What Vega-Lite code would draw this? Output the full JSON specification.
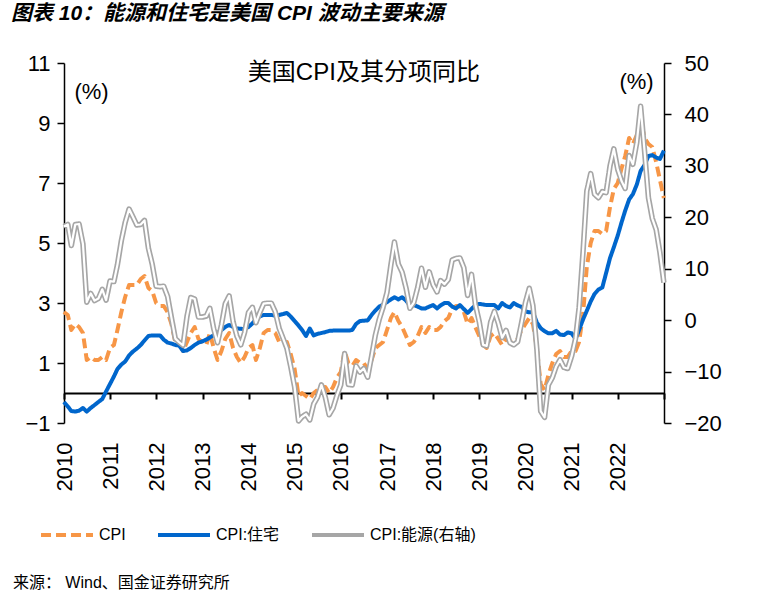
{
  "$schema": "https://vega.github.io/schema/vega-lite/v6.json",
  "background": "white",
  "padding": {"left": 10, "top": 3, "right": 5, "bottom": 5},
  "config": {"view": {"stroke": null}, "font": "Liberation Sans, Noto Sans CJK SC"},
  "title": {"text": "来源：   Wind、国金证券研究所", "orient": "bottom", "anchor": "start", "frame": "bounds", "dx": 2, "fontSize": 16, "fontWeight": "normal", "font": "Liberation Sans, Noto Sans CJK SC", "color": "black", "offset": 32},
  "datasets": {
    "cpi": [
      {"d":"2009-12-31","c":2.7,"h":-0.3,"e":18.2},
      {"d":"2010-01-31","c":2.6,"h":-0.45,"e":18.6},
      {"d":"2010-02-28","c":2.1,"h":-0.6,"e":14.5},
      {"d":"2010-03-31","c":2.3,"h":-0.62,"e":18.6},
      {"d":"2010-04-30","c":2.2,"h":-0.59,"e":18.7},
      {"d":"2010-05-31","c":2.0,"h":-0.5,"e":14.8},
      {"d":"2010-06-30","c":1.1,"h":-0.62,"e":3.5},
      {"d":"2010-07-31","c":1.2,"h":-0.5,"e":5.2},
      {"d":"2010-08-31","c":1.1,"h":-0.4,"e":3.8},
      {"d":"2010-09-30","c":1.1,"h":-0.3,"e":4.2},
      {"d":"2010-10-31","c":1.2,"h":-0.2,"e":6.0},
      {"d":"2010-11-30","c":1.1,"h":0.05,"e":3.9},
      {"d":"2010-12-31","c":1.5,"h":0.3,"e":7.6},
      {"d":"2011-01-31","c":1.6,"h":0.55,"e":7.5},
      {"d":"2011-02-28","c":2.1,"h":0.8,"e":10.8},
      {"d":"2011-03-31","c":2.7,"h":0.95,"e":15.5},
      {"d":"2011-04-30","c":3.2,"h":1.05,"e":19.0},
      {"d":"2011-05-31","c":3.6,"h":1.25,"e":21.6},
      {"d":"2011-06-30","c":3.6,"h":1.38,"e":20.1},
      {"d":"2011-07-31","c":3.6,"h":1.48,"e":18.5},
      {"d":"2011-08-31","c":3.8,"h":1.6,"e":18.6},
      {"d":"2011-09-30","c":3.9,"h":1.75,"e":19.4},
      {"d":"2011-10-31","c":3.5,"h":1.9,"e":14.0},
      {"d":"2011-11-30","c":3.4,"h":1.92,"e":10.9},
      {"d":"2011-12-31","c":3.0,"h":1.92,"e":6.6},
      {"d":"2012-01-31","c":2.9,"h":1.92,"e":6.5},
      {"d":"2012-02-29","c":2.9,"h":1.78,"e":6.6},
      {"d":"2012-03-31","c":2.7,"h":1.68,"e":4.6},
      {"d":"2012-04-30","c":2.3,"h":1.65,"e":0.5},
      {"d":"2012-05-31","c":1.7,"h":1.6,"e":-3.6},
      {"d":"2012-06-30","c":1.7,"h":1.58,"e":-4.3},
      {"d":"2012-07-31","c":1.4,"h":1.4,"e":-4.9},
      {"d":"2012-08-31","c":1.7,"h":1.42,"e":0.7},
      {"d":"2012-09-30","c":2.0,"h":1.5,"e":4.4},
      {"d":"2012-10-31","c":2.2,"h":1.6,"e":4.1},
      {"d":"2012-11-30","c":1.8,"h":1.68,"e":0.6},
      {"d":"2012-12-31","c":1.7,"h":1.72,"e":0.6},
      {"d":"2013-01-31","c":1.6,"h":1.78,"e":0.8},
      {"d":"2013-02-28","c":2.0,"h":1.85,"e":2.3},
      {"d":"2013-03-31","c":1.5,"h":1.93,"e":-1.7},
      {"d":"2013-04-30","c":1.1,"h":2.0,"e":-4.4},
      {"d":"2013-05-31","c":1.4,"h":2.1,"e":-0.9},
      {"d":"2013-06-30","c":1.8,"h":2.2,"e":3.2},
      {"d":"2013-07-31","c":2.0,"h":2.27,"e":4.7},
      {"d":"2013-08-31","c":1.5,"h":2.2,"e":-0.3},
      {"d":"2013-09-30","c":1.2,"h":2.15,"e":-3.1},
      {"d":"2013-10-31","c":1.0,"h":2.14,"e":-4.8},
      {"d":"2013-11-30","c":1.2,"h":2.13,"e":-2.4},
      {"d":"2013-12-31","c":1.5,"h":2.2,"e":1.5},
      {"d":"2014-01-31","c":1.6,"h":2.32,"e":2.5},
      {"d":"2014-02-28","c":1.1,"h":2.45,"e":-0.5},
      {"d":"2014-03-31","c":1.5,"h":2.56,"e":1.5},
      {"d":"2014-04-30","c":2.0,"h":2.6,"e":3.2},
      {"d":"2014-05-31","c":2.1,"h":2.6,"e":3.3},
      {"d":"2014-06-30","c":2.1,"h":2.6,"e":3.3},
      {"d":"2014-07-31","c":2.0,"h":2.58,"e":1.6},
      {"d":"2014-08-31","c":1.7,"h":2.6,"e":-1.6},
      {"d":"2014-09-30","c":1.7,"h":2.63,"e":-3.5},
      {"d":"2014-10-31","c":1.7,"h":2.67,"e":-5.5},
      {"d":"2014-11-30","c":1.3,"h":2.55,"e":-9.0},
      {"d":"2014-12-31","c":0.8,"h":2.4,"e":-13.0},
      {"d":"2015-01-31","c":-0.1,"h":2.25,"e":-19.6},
      {"d":"2015-02-28","c":0.0,"h":2.1,"e":-18.8},
      {"d":"2015-03-31","c":-0.1,"h":1.9,"e":-18.3},
      {"d":"2015-04-30","c":-0.2,"h":2.15,"e":-19.4},
      {"d":"2015-05-31","c":0.0,"h":1.92,"e":-16.3},
      {"d":"2015-06-30","c":0.1,"h":1.97,"e":-15.0},
      {"d":"2015-07-31","c":0.2,"h":2.0,"e":-12.6},
      {"d":"2015-08-31","c":0.2,"h":2.03,"e":-15.0},
      {"d":"2015-09-30","c":0.0,"h":2.07,"e":-18.4},
      {"d":"2015-10-31","c":0.2,"h":2.08,"e":-17.1},
      {"d":"2015-11-30","c":0.5,"h":2.08,"e":-14.7},
      {"d":"2015-12-31","c":0.7,"h":2.08,"e":-12.6},
      {"d":"2016-01-31","c":1.4,"h":2.08,"e":-6.5},
      {"d":"2016-02-29","c":1.0,"h":2.08,"e":-12.5},
      {"d":"2016-03-31","c":0.9,"h":2.1,"e":-12.6},
      {"d":"2016-04-30","c":1.1,"h":2.3,"e":-8.9},
      {"d":"2016-05-31","c":1.0,"h":2.4,"e":-10.1},
      {"d":"2016-06-30","c":1.0,"h":2.41,"e":-9.4},
      {"d":"2016-07-31","c":0.8,"h":2.42,"e":-11.1},
      {"d":"2016-08-31","c":1.1,"h":2.6,"e":-7.0},
      {"d":"2016-09-30","c":1.5,"h":2.75,"e":-2.9},
      {"d":"2016-10-31","c":1.6,"h":2.88,"e":0.2},
      {"d":"2016-11-30","c":1.7,"h":2.95,"e":2.5},
      {"d":"2016-12-31","c":2.1,"h":3.03,"e":5.4},
      {"d":"2017-01-31","c":2.5,"h":3.12,"e":10.8},
      {"d":"2017-02-28","c":2.7,"h":3.19,"e":15.2},
      {"d":"2017-03-31","c":2.4,"h":3.12,"e":10.9},
      {"d":"2017-04-30","c":2.2,"h":3.19,"e":9.3},
      {"d":"2017-05-31","c":1.9,"h":3.08,"e":6.2},
      {"d":"2017-06-30","c":1.6,"h":2.92,"e":2.3},
      {"d":"2017-07-31","c":1.7,"h":2.93,"e":3.4},
      {"d":"2017-08-31","c":1.9,"h":2.88,"e":6.4},
      {"d":"2017-09-30","c":2.2,"h":2.82,"e":10.1},
      {"d":"2017-10-31","c":2.0,"h":2.82,"e":6.4},
      {"d":"2017-11-30","c":2.2,"h":2.88,"e":9.4},
      {"d":"2017-12-31","c":2.1,"h":2.93,"e":6.9},
      {"d":"2018-01-31","c":2.1,"h":2.82,"e":5.5},
      {"d":"2018-02-28","c":2.2,"h":2.92,"e":7.7},
      {"d":"2018-03-31","c":2.4,"h":3.0,"e":7.0},
      {"d":"2018-04-30","c":2.5,"h":3.0,"e":7.9},
      {"d":"2018-05-31","c":2.8,"h":2.88,"e":11.7},
      {"d":"2018-06-30","c":2.9,"h":2.82,"e":12.0},
      {"d":"2018-07-31","c":2.9,"h":2.93,"e":12.1},
      {"d":"2018-08-31","c":2.7,"h":2.8,"e":10.2},
      {"d":"2018-09-30","c":2.3,"h":2.67,"e":4.8},
      {"d":"2018-10-31","c":2.5,"h":2.8,"e":8.9},
      {"d":"2018-11-30","c":2.2,"h":2.93,"e":3.1},
      {"d":"2018-12-31","c":1.9,"h":2.97,"e":-0.3},
      {"d":"2019-01-31","c":1.6,"h":2.95,"e":-4.8},
      {"d":"2019-02-28","c":1.5,"h":2.93,"e":-5.0},
      {"d":"2019-03-31","c":1.9,"h":2.93,"e":-0.4},
      {"d":"2019-04-30","c":2.0,"h":2.93,"e":1.7},
      {"d":"2019-05-31","c":1.8,"h":2.82,"e":-0.6},
      {"d":"2019-06-30","c":1.6,"h":3.0,"e":-3.4},
      {"d":"2019-07-31","c":1.8,"h":2.9,"e":-2.0},
      {"d":"2019-08-31","c":1.7,"h":2.85,"e":-4.4},
      {"d":"2019-09-30","c":1.7,"h":3.0,"e":-4.8},
      {"d":"2019-10-31","c":1.8,"h":2.92,"e":-4.2},
      {"d":"2019-11-30","c":2.1,"h":2.87,"e":-0.6},
      {"d":"2019-12-31","c":2.3,"h":2.72,"e":3.4},
      {"d":"2020-01-31","c":2.5,"h":2.69,"e":6.2},
      {"d":"2020-02-29","c":2.3,"h":2.69,"e":2.8},
      {"d":"2020-03-31","c":1.5,"h":2.35,"e":-5.7},
      {"d":"2020-04-30","c":0.3,"h":2.16,"e":-17.7},
      {"d":"2020-05-31","c":0.1,"h":2.06,"e":-18.9},
      {"d":"2020-06-30","c":0.6,"h":1.99,"e":-12.6},
      {"d":"2020-07-31","c":1.0,"h":1.99,"e":-11.2},
      {"d":"2020-08-31","c":1.3,"h":2.07,"e":-9.0},
      {"d":"2020-09-30","c":1.4,"h":1.95,"e":-7.7},
      {"d":"2020-10-31","c":1.2,"h":1.93,"e":-9.2},
      {"d":"2020-11-30","c":1.2,"h":2.02,"e":-9.4},
      {"d":"2020-12-31","c":1.4,"h":1.99,"e":-7.0},
      {"d":"2021-01-31","c":1.4,"h":1.8,"e":-3.6},
      {"d":"2021-02-28","c":1.7,"h":2.1,"e":2.4},
      {"d":"2021-03-31","c":2.6,"h":2.45,"e":13.2},
      {"d":"2021-04-30","c":4.2,"h":2.74,"e":25.1},
      {"d":"2021-05-31","c":5.0,"h":3.05,"e":28.5},
      {"d":"2021-06-30","c":5.4,"h":3.3,"e":24.5},
      {"d":"2021-07-31","c":5.4,"h":3.45,"e":23.8},
      {"d":"2021-08-31","c":5.3,"h":3.52,"e":25.0},
      {"d":"2021-09-30","c":5.4,"h":4.0,"e":24.8},
      {"d":"2021-10-31","c":6.2,"h":4.5,"e":30.0},
      {"d":"2021-11-30","c":6.8,"h":4.86,"e":33.3},
      {"d":"2021-12-31","c":7.0,"h":5.25,"e":29.3},
      {"d":"2022-01-31","c":7.5,"h":5.7,"e":27.0},
      {"d":"2022-02-28","c":7.9,"h":6.08,"e":25.6},
      {"d":"2022-03-31","c":8.5,"h":6.45,"e":32.0},
      {"d":"2022-04-30","c":8.3,"h":6.63,"e":30.3},
      {"d":"2022-05-31","c":8.6,"h":6.95,"e":34.6},
      {"d":"2022-06-30","c":9.1,"h":7.4,"e":41.6},
      {"d":"2022-07-31","c":8.5,"h":7.6,"e":32.9},
      {"d":"2022-08-31","c":8.3,"h":7.9,"e":23.8},
      {"d":"2022-09-30","c":8.2,"h":7.93,"e":19.8},
      {"d":"2022-10-31","c":7.7,"h":7.85,"e":17.6},
      {"d":"2022-11-30","c":7.1,"h":7.8,"e":13.1},
      {"d":"2022-12-31","c":6.5,"h":8.08,"e":7.3}
    ]
  },
  "vconcat": [
    {
      "width": 600,
      "height": 360,
      "title": {"text": "图表 10：能源和住宅是美国 CPI 波动主要来源", "anchor": "start", "frame": "bounds", "dx": -14, "fontSize": 21, "fontStyle": "italic", "fontWeight": "bold", "font": "Liberation Sans, Noto Sans CJK SC", "offset": 28, "color": "black"},
      "data": {"name": "cpi"},
      "layer": [
        {
          "layer": [
            {
              "transform": [{"fold": ["c", "h"], "as": ["s", "v"]}],
              "mark": {"type": "line", "strokeWidth": 4, "strokeJoin": "round"},
              "encoding": {
                "x": {"field": "d", "type": "temporal", "scale": {"domain": [{"year": 2010, "month": 1, "date": 1}, {"year": 2023, "month": 1, "date": 1}], "nice": false},
                  "axis": {"orient": "bottom", "domain": false, "ticks": false, "grid": false, "format": "%Y",
                    "values": [{"year": 2010, "month": 1, "date": 1}, {"year": 2011, "month": 1, "date": 1}, {"year": 2012, "month": 1, "date": 1}, {"year": 2013, "month": 1, "date": 1}, {"year": 2014, "month": 1, "date": 1}, {"year": 2015, "month": 1, "date": 1}, {"year": 2016, "month": 1, "date": 1}, {"year": 2017, "month": 1, "date": 1}, {"year": 2018, "month": 1, "date": 1}, {"year": 2019, "month": 1, "date": 1}, {"year": 2020, "month": 1, "date": 1}, {"year": 2021, "month": 1, "date": 1}, {"year": 2022, "month": 1, "date": 1}],
                    "labelAngle": 270, "labelPadding": 19, "labelFontSize": 22, "labelColor": "black", "labelFont": "Liberation Sans", "labelFlush": false, "labelOverlap": false, "title": null}},
                "y": {"field": "v", "type": "quantitative", "scale": {"domain": [-1, 11], "nice": false, "zero": false},
                  "axis": {"orient": "left", "values": [-1, 1, 3, 5, 7, 9, 11], "grid": false, "domainColor": "black", "domainWidth": 1.5, "tickColor": "black", "tickWidth": 1.5, "tickSize": 7, "labelFontSize": 22, "labelFont": "Liberation Sans", "labelColor": "black", "labelPadding": 7, "title": "(%)", "titleAngle": 0, "titleX": 27, "titleY": 28, "titleAlign": "center", "titleBaseline": "middle", "titleFontSize": 22, "titleFontWeight": "normal", "titleFont": "Liberation Sans", "titleColor": "black"}},
                "stroke": {"field": "s", "type": "nominal", "scale": {"domain": ["c", "h", "e"], "range": ["#F79646", "#0066CC", "#A6A6A6"]},
                  "legend": {"title": null, "orient": "none", "legendX": -25, "legendY": 444, "direction": "horizontal", "symbolType": "stroke", "symbolSize": 2700, "symbolStrokeWidth": 4, "labelFontSize": 16, "labelFont": "Liberation Sans, Noto Sans CJK SC", "labelColor": "black", "labelOffset": 4, "columnPadding": 24, "labelExpr": "datum.value == 'c' ? 'CPI' : datum.value == 'h' ? 'CPI:住宅' : 'CPI:能源(右轴)'"}},
                "strokeDash": {"field": "s", "type": "nominal", "scale": {"domain": ["c", "h", "e"], "range": [[10, 5], [1, 0], [1, 0]]},
                  "legend": {"title": null, "orient": "none", "legendX": -25, "legendY": 444, "direction": "horizontal", "symbolType": "stroke", "symbolSize": 2700, "symbolStrokeWidth": 4, "labelFontSize": 16, "labelFont": "Liberation Sans, Noto Sans CJK SC", "labelColor": "black", "labelOffset": 4, "columnPadding": 24, "labelExpr": "datum.value == 'c' ? 'CPI' : datum.value == 'h' ? 'CPI:住宅' : 'CPI:能源(右轴)'"}}
              }
            },
            {
              "data": {"values": [{}]},
              "mark": {"type": "text", "text": "美国CPI及其分项同比", "fontSize": 24, "font": "Liberation Sans, Noto Sans CJK SC", "color": "black", "baseline": "middle", "align": "center"},
              "encoding": {
                "x": {"datum": {"year": 2016, "month": 7, "date": 1}, "type": "temporal"},
                "y": {"datum": 10.67, "type": "quantitative"}
              }
            }
          ]
        },
        {
          "transform": [{"fold": ["e"], "as": ["s", "v"]}],
          "encoding": {
            "x": {"field": "d", "type": "temporal", "scale": {"domain": [{"year": 2010, "month": 1, "date": 1}, {"year": 2023, "month": 1, "date": 1}], "nice": false},
              "axis": {"orient": "bottom", "offset": -30, "domain": true, "domainColor": "black", "domainWidth": 2, "ticks": true, "tickColor": "black", "tickWidth": 2, "tickSize": 6, "labels": false, "grid": false, "tickCount": {"interval": "year", "step": 1}, "title": null}},
            "y": {"field": "v", "type": "quantitative", "scale": {"domain": [-20, 50], "nice": false, "zero": false},
              "axis": {"orient": "right", "values": [-20, -10, 0, 10, 20, 30, 40, 50], "grid": false, "domainColor": "black", "domainWidth": 1.5, "tickColor": "black", "tickWidth": 1.5, "tickSize": 7, "labelFontSize": 22, "labelFont": "Liberation Sans", "labelColor": "black", "labelPadding": 13, "title": "(%)", "titleAngle": 0, "titleX": -28, "titleY": 18, "titleAlign": "center", "titleBaseline": "middle", "titleFontSize": 22, "titleFontWeight": "normal", "titleFont": "Liberation Sans", "titleColor": "black"}}
          },
          "layer": [
            {
              "mark": {"type": "line", "strokeWidth": 5.5, "strokeJoin": "round"},
              "encoding": {
                "stroke": {"field": "s", "type": "nominal", "scale": {"domain": ["c", "h", "e"], "range": ["#F79646", "#0066CC", "#A6A6A6"]},
                  "legend": {"title": null, "orient": "none", "legendX": -25, "legendY": 444, "direction": "horizontal", "symbolType": "stroke", "symbolSize": 2700, "symbolStrokeWidth": 4, "labelFontSize": 16, "labelFont": "Liberation Sans, Noto Sans CJK SC", "labelColor": "black", "labelOffset": 4, "columnPadding": 24, "labelExpr": "datum.value == 'c' ? 'CPI' : datum.value == 'h' ? 'CPI:住宅' : 'CPI:能源(右轴)'"}},
                "strokeDash": {"field": "s", "type": "nominal", "scale": {"domain": ["c", "h", "e"], "range": [[10, 5], [1, 0], [1, 0]]},
                  "legend": {"title": null, "orient": "none", "legendX": -25, "legendY": 444, "direction": "horizontal", "symbolType": "stroke", "symbolSize": 2700, "symbolStrokeWidth": 4, "labelFontSize": 16, "labelFont": "Liberation Sans, Noto Sans CJK SC", "labelColor": "black", "labelOffset": 4, "columnPadding": 24, "labelExpr": "datum.value == 'c' ? 'CPI' : datum.value == 'h' ? 'CPI:住宅' : 'CPI:能源(右轴)'"}}
              }
            },
            {
              "mark": {"type": "line", "strokeWidth": 2.2, "stroke": "white", "strokeJoin": "round"},
              "encoding": {}
            }
          ]
        }
      ],
      "resolve": {"scale": {"y": "independent"}, "axis": {"x": "independent"}}
    }
  ],
  "resolve": {"scale": {"stroke": "independent", "strokeDash": "independent"}}
}
